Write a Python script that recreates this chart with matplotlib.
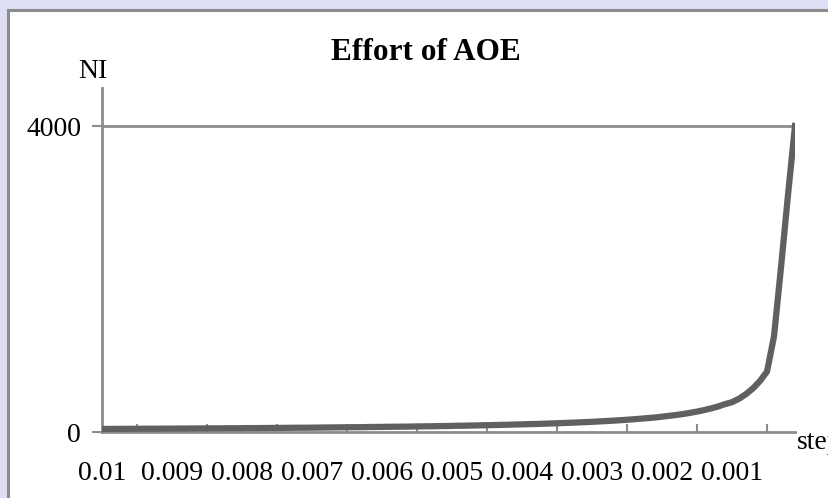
import numpy as np
import matplotlib.pyplot as plt
from matplotlib.patches import Rectangle

# step values (0.01 -> 0.0001) and NI
steps = [round(0.0001 * k, 4) for k in range(100, 0, -1)]
ni = [40, 40, 41, 41, 42, 42, 43, 43, 43, 44,
      44, 45, 45, 46, 47, 47, 48, 48, 49, 49,
      50, 51, 51, 52, 53, 53, 54, 55, 56, 56,
      57, 58, 59, 60, 61, 62, 63, 63, 65, 66,
      67, 68, 69, 70, 71, 73, 74, 75, 77, 78,
      80, 82, 83, 85, 87, 89, 91, 93, 95, 98,
      100, 103, 105, 108, 111, 114, 118, 121, 125, 129,
      133, 138, 143, 148, 154, 160, 167, 174, 182, 190,
      200, 211, 222, 235, 250, 267, 286, 308, 333, 364,
      390, 435, 495, 571, 667, 790, 1250, 2150, 3100, 4000]
label_steps = ['0.01', '0.009', '0.008', '0.007', '0.006',
               '0.005', '0.004', '0.003', '0.002', '0.001']
y_ticks = [0, 4000]

plt.rcParams['font.family'] = ['Liberation Serif', 'DejaVu Serif']

W, H = 829, 498
fig = plt.figure(figsize=(W / 100, H / 100), dpi=100)
fig.patch.set_facecolor('#dedef5')

# white chart area with grey frame
fig.patches.append(Rectangle((8 / W, -0.05), 1.1, 1 - 10 / H + 0.05,
                             transform=fig.transFigure, facecolor='white',
                             edgecolor='#8c8c8c', linewidth=2.2, zorder=-10))

ax = fig.add_axes([102 / W, 1 - 432 / H, (795 - 102) / W, (432 - 88) / H])
ax.set_facecolor('none')

x = np.arange(len(steps))
ax.plot(x, ni, color='#606060', lw=4.5, solid_joinstyle='round', zorder=3)

ax.set_xlim(0, len(steps) - 1)
ax.set_ylim(0, 4000 * 344 / 306)

# labels every 10 steps, tick marks in between
lab_pos = [steps.index(float(s)) for s in label_steps]
ax.set_xticks(lab_pos)
ax.set_xticklabels(label_steps, fontsize=20)
ax.tick_params(axis='x', which='major', length=0, pad=21)
ax.set_xticks([p + 5 for p in lab_pos], minor=True)
ax.tick_params(axis='x', which='minor', direction='in', length=6,
               width=1.5, color='#8c8c8c')

ax.set_yticks(y_ticks)
ax.set_yticklabels([str(v) for v in y_ticks], fontsize=20)
ax.tick_params(axis='y', direction='out', length=7, width=1.5,
               color='#8c8c8c', pad=8)
ax.axhline(4000, color='#8c8c8c', lw=2, zorder=1)

for side in ['top', 'right']:
    ax.spines[side].set_visible(False)
for side in ['left', 'bottom']:
    ax.spines[side].set_color('#8c8c8c')
    ax.spines[side].set_linewidth(2)

fig.text(426 / W, 1 - 52 / H, 'Effort of AOE', ha='center', va='center',
         fontsize=22.5, fontweight='bold')
fig.text(93 / W, 1 - 71 / H, 'NI', ha='center', va='center', fontsize=20)
fig.text(797 / W, 1 - 442 / H, 'step', ha='left', va='center', fontsize=20)

fig.savefig('out.png', dpi=100, facecolor=fig.get_facecolor())
